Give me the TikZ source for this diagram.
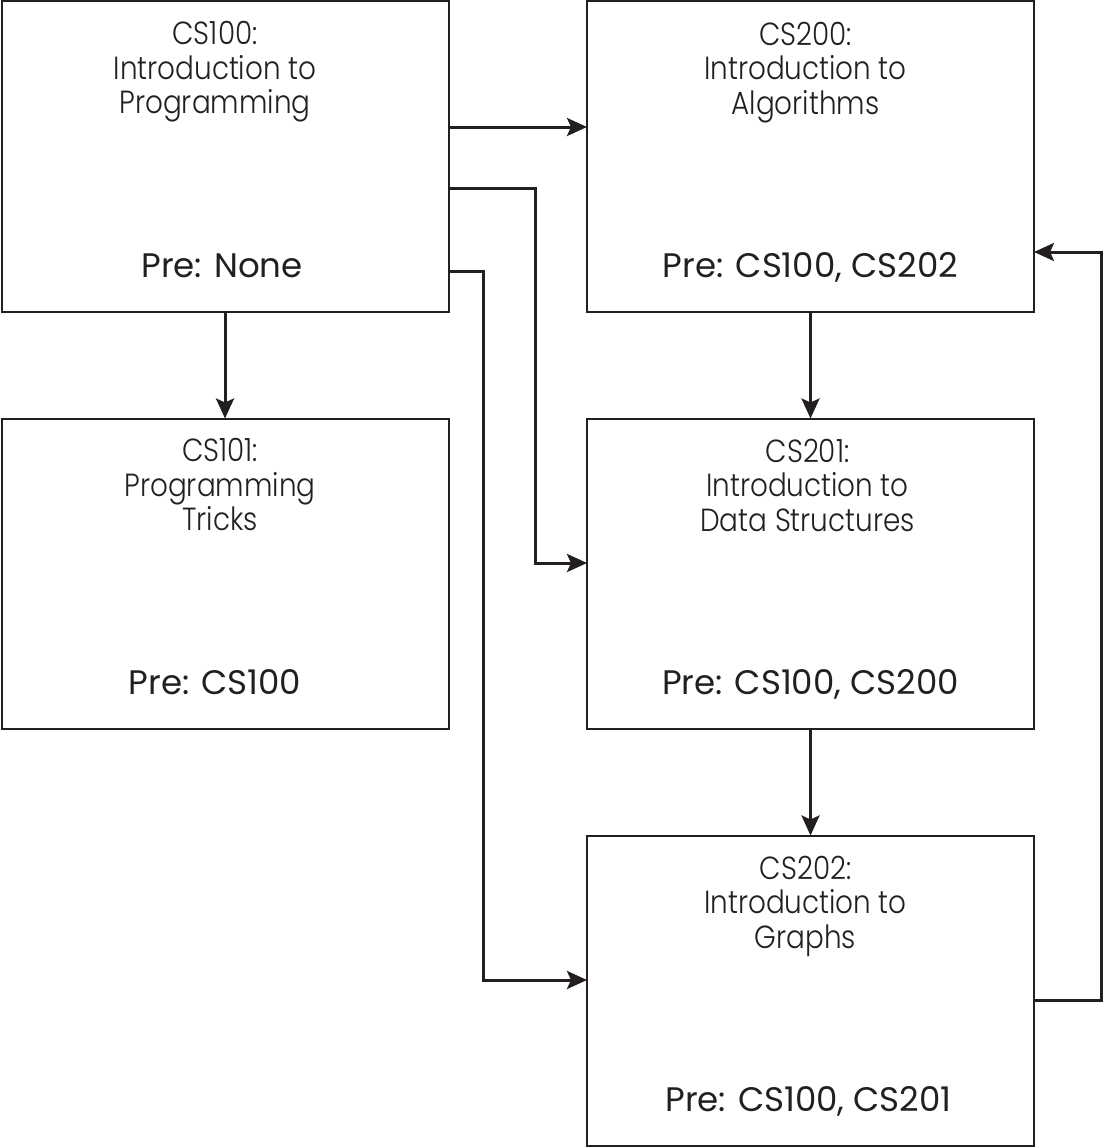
\documentclass[tikz,border=0pt]{standalone}
\usepackage{fontspec}
\setmainfont{Poppins}
\newfontfamily\ftitle{Poppins Light}[FakeStretch=0.87]
\newfontfamily\fpre{Poppins}
\usetikzlibrary{arrows.meta}
\definecolor{ink}{HTML}{231F20}
\begin{document}
\begin{tikzpicture}[x=1pt,y=-1pt,
  box/.style={draw=ink,line width=2pt,minimum width=447pt,minimum height=310pt,inner sep=0pt,outer sep=0pt},
  ttl/.style={anchor=north,align=center,inner sep=0pt,text=ink,font=\ftitle\fontsize{32}{34.5}\selectfont},
  pre/.style={anchor=base,inner sep=0pt,text=ink,font=\fpre\fontsize{34}{34}\selectfont},
  arr/.style={draw=ink,line width=3pt,-{Stealth[length=20pt,width=18pt,inset=4pt]}},
  conn/.style={draw=ink,line width=3pt}]
\useasboundingbox (0,0) rectangle (1105,1148);
\node[box] (cs100) at (225,156.5) {};
\node[box] (cs200) at (810.5,156.5) {};
\node[box] (cs101) at (225,573.5) {};
\node[box] (cs201) at (810.5,573.5) {};
\node[box] (cs202) at (810.5,990.5) {};
\node[ttl] (t100) at ([xshift=-10pt,yshift=-20pt]cs100.north) {CS100:\\Introduction to\\Programming};
\node[ttl] (t200) at ([xshift=-5pt,yshift=-20pt]cs200.north) {CS200:\\Introduction to\\Algorithms};
\node[ttl] (t101) at ([xshift=-5pt,yshift=-20pt]cs101.north) {CS101:\\Programming\\Tricks};
\node[ttl] (t201) at ([xshift=-3pt,yshift=-20pt]cs201.north) {CS201:\\Introduction to\\Data Structures};
\node[ttl] (t202) at ([xshift=-5pt,yshift=-20pt]cs202.north) {CS202:\\Introduction to\\Graphs};
\node[pre] (p100) at ([xshift=-3pt,yshift=34pt]cs100.south) {Pre: None};
\node[pre] (p200) at ([yshift=34pt]cs200.south) {Pre: CS100, CS202};
\node[pre] (p101) at ([xshift=-10pt,yshift=34pt]cs101.south) {Pre: CS100};
\node[pre] (p201) at ([yshift=34pt]cs201.south) {Pre: CS100, CS200};
\node[pre] (p202) at ([xshift=-2pt,yshift=34pt]cs202.south) {Pre: CS100, CS201};
\draw[arr] (cs100.east |- 0,127) -- (cs200.west |- 0,127);
\draw[arr] (cs100.east |- 0,188) -- (535,188) -- (535,563) -- (cs201.west |- 0,563);
\draw[arr] (cs100.east |- 0,271) -- (483,271) -- (483,980) -- (cs202.west |- 0,980);
\draw[arr] (cs202.east |- 0,1000) -- (1101,1000) -- (1101,252) -- (cs200.east |- 0,252);
\draw[arr] (cs100.south) -- (cs101.north);
\draw[arr] (cs200.south) -- (cs201.north);
\draw[arr] (cs201.south) -- (cs202.north);
\end{tikzpicture}
\end{document}
